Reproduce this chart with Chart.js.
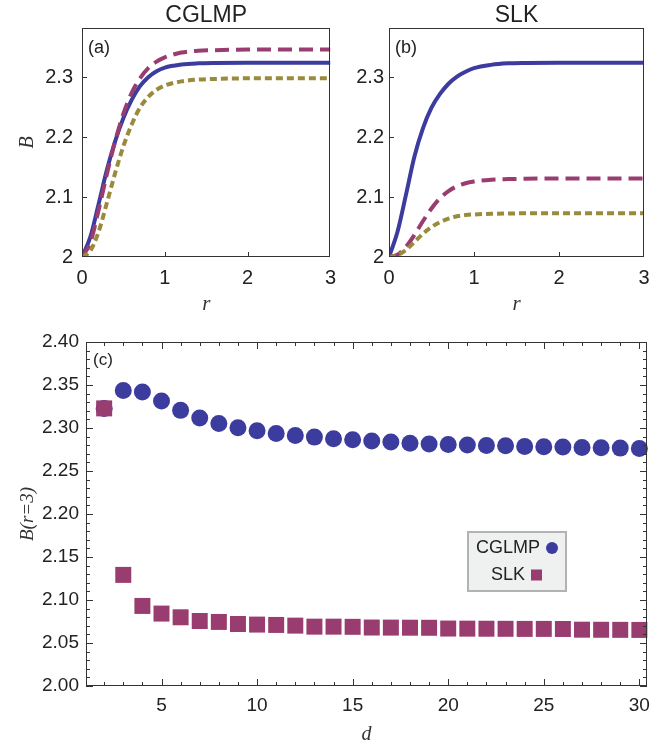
<!DOCTYPE html>
<html>
<head>
<meta charset="utf-8">
<script src="https://cdn.jsdelivr.net/npm/chart.js@4"></script>
<style>
  html, body { margin: 0; padding: 0; background: #fff; }
  #wrap { position: relative; width: 672px; height: 751px; }
  canvas { position: absolute; }
</style>
</head>
<body>
<div id="wrap">
  <canvas id="cglmp" width="345" height="320" style="left:0;top:0"></canvas>
  <canvas id="slk" width="327" height="320" style="left:345px;top:0"></canvas>
  <canvas id="dims" width="672" height="431" style="left:0;top:320px"></canvas>
</div>
<script>
// panels (a) and (b): B against r, three curves each
const rValues = [0, 0.1, 0.2, 0.3, 0.4, 0.5, 0.6, 0.7, 0.8, 0.9, 1.0, 1.2, 1.4, 1.6, 2.0, 2.5, 3.0];
const cglmpSolid  = [2.000, 2.033, 2.088, 2.145, 2.193, 2.232, 2.262, 2.285, 2.300, 2.310, 2.316, 2.321, 2.323, 2.3237, 2.324, 2.324, 2.324];
const cglmpDashed = [2.000, 2.024, 2.078, 2.138, 2.193, 2.239, 2.274, 2.298, 2.315, 2.326, 2.333, 2.341, 2.344, 2.345, 2.346, 2.346, 2.346];
const cglmpDotted = [2.000, 2.010, 2.042, 2.090, 2.140, 2.185, 2.221, 2.249, 2.267, 2.279, 2.286, 2.293, 2.296, 2.297, 2.298, 2.298, 2.298];
const slkSolid    = [2.000, 2.042, 2.104, 2.168, 2.215, 2.249, 2.272, 2.289, 2.301, 2.309, 2.315, 2.3205, 2.323, 2.3237, 2.324, 2.324, 2.324];
const slkDashed   = [2.000, 2.004, 2.017, 2.037, 2.060, 2.081, 2.098, 2.110, 2.118, 2.123, 2.126, 2.129, 2.130, 2.1305, 2.131, 2.131, 2.131];
const slkDotted   = [2.000, 2.003, 2.012, 2.025, 2.039, 2.050, 2.058, 2.064, 2.068, 2.070, 2.071, 2.072, 2.0725, 2.073, 2.073, 2.073, 2.073];
const rTicks = [0, 1, 2, 3];
const bTicks = [2, 2.1, 2.2, 2.3];
const bTickLabels = ['2', '2.1', '2.2', '2.3'];

// panel (c): B(r=3) against d
const dValues = [2, 3, 4, 5, 6, 7, 8, 9, 10, 11, 12, 13, 14, 15, 16, 17, 18, 19, 20, 21, 22, 23, 24, 25, 26, 27, 28, 29, 30];
const cglmpAtR3 = [2.3228, 2.3437, 2.3418, 2.3313, 2.3205, 2.3115, 2.3053, 2.3003, 2.2968, 2.2937, 2.2914, 2.2894, 2.2875, 2.2863, 2.2848,
                   2.2836, 2.2824, 2.2813, 2.2809, 2.2801, 2.2797, 2.2793, 2.2786, 2.2782, 2.2778, 2.2774, 2.2770, 2.2766, 2.2762];
const slkAtR3   = [2.3228, 2.1292, 2.0931, 2.0842, 2.0799, 2.0756, 2.0745, 2.0721, 2.0714, 2.0710, 2.0702, 2.0690, 2.0690, 2.0688, 2.0680,
                   2.0679, 2.0678, 2.0677, 2.0668, 2.0667, 2.0666, 2.0665, 2.0664, 2.0664, 2.0663, 2.0655, 2.0654, 2.0653, 2.0652];
const dTicks = [5, 10, 15, 20, 25, 30];
const cTicks = [2.00, 2.05, 2.10, 2.15, 2.20, 2.25, 2.30, 2.35, 2.40];

const BLUE = '#3c3c9e', PLUM = '#993c70', GOLD = '#9a8a3c';
const SANS = "'Liberation Sans', Arial, sans-serif";
const SERIF = "'Liberation Serif', 'Times New Roman', serif";

// frame with inward ticks, panel tag, panel title, optional legend
function framePlugin(cfg) {
  return {
    id: 'frame',
    afterDatasetsDraw(chart) {
      const { ctx, chartArea: a, scales: { x, y } } = chart;
      ctx.save();
      ctx.strokeStyle = '#333';
      ctx.lineWidth = 1;
      ctx.beginPath();
      const xt = (v, len) => {
        const px = Math.round(x.getPixelForValue(v)) + 0.5;
        ctx.moveTo(px, a.bottom); ctx.lineTo(px, a.bottom - len);
        if (cfg.mirror) { ctx.moveTo(px, a.top); ctx.lineTo(px, a.top + len); }
      };
      const yt = (v, len) => {
        const py = Math.round(y.getPixelForValue(v)) + 0.5;
        ctx.moveTo(a.left, py); ctx.lineTo(a.left + len, py);
        if (cfg.mirror) { ctx.moveTo(a.right, py); ctx.lineTo(a.right - len, py); }
      };
      cfg.xMajor.forEach(v => xt(v, cfg.major));
      cfg.yMajor.forEach(v => yt(v, cfg.major));
      if (cfg.xStep) {
        for (let v = Math.ceil(x.min); v <= x.max; v += cfg.xStep) if (!cfg.xMajor.includes(v)) xt(v, cfg.minor);
      }
      if (cfg.yStep) {
        for (let k = 1; k < 40; k++) { if (k % 5) yt(2 + k * cfg.yStep, cfg.minor); }
      }
      ctx.stroke();
      ctx.strokeRect(Math.round(a.left) + 0.5, Math.round(a.top) + 0.5, Math.round(a.width) - 1, Math.round(a.height) - 1);

      ctx.fillStyle = '#222';
      ctx.font = cfg.tagFont;
      ctx.textAlign = 'left';
      ctx.textBaseline = 'middle';
      ctx.fillText(cfg.tag, a.left + cfg.tagX, a.top + cfg.tagY);
      if (cfg.title) {
        ctx.font = '23px ' + SANS;
        ctx.textAlign = 'center';
        ctx.fillText(cfg.title, (a.left + a.right) / 2, 16);
      }
      if (cfg.legend) {
        const L = cfg.legend;
        const bx = a.left + L.x, by = a.top + L.y;
        ctx.fillStyle = '#eff1f1';
        ctx.fillRect(bx, by, L.w, L.h);
        ctx.strokeStyle = '#b2b2b2';
        ctx.lineWidth = 2;
        ctx.strokeRect(bx, by, L.w, L.h);
        ctx.font = '18px ' + SANS;
        ctx.textAlign = 'left';
        chart.data.datasets.slice().sort((p, q) => q.order - p.order).forEach((ds, i) => {
          const tw = ctx.measureText(ds.label).width;
          const gw = tw + 6 + 12;
          const sx = bx + L.w / 2 - gw / 2;
          const cy = by + 16 + i * 27;
          ctx.fillStyle = '#222';
          ctx.fillText(ds.label, sx, cy);
          ctx.fillStyle = ds.backgroundColor;
          if (ds.pointStyle === 'circle') {
            ctx.beginPath(); ctx.arc(sx + tw + 12, cy, 6, 0, Math.PI * 2); ctx.fill();
          } else {
            ctx.fillRect(sx + tw + 6, cy - 5.5, 11, 11);
          }
        });
      }
      ctx.restore();
    }
  };
}

function curveSet(solid, dashed, dotted) {
  const pts = arr => rValues.map((r, i) => ({ x: r, y: arr[i] }));
  const base = { pointRadius: 0, borderWidth: 4, cubicInterpolationMode: 'monotone', fill: false };
  return [
    Object.assign({ label: 'dotted', data: pts(dotted), borderColor: GOLD, borderDash: [7, 4] }, base),
    Object.assign({ label: 'dashed', data: pts(dashed), borderColor: PLUM, borderDash: [14, 7] }, base),
    Object.assign({ label: 'solid', data: pts(solid), borderColor: BLUE }, base)
  ];
}

function curveChart(id, title, tag, solid, dashed, dotted, yWidth, padRight, labelPad, showYTitle) {
  return new Chart(document.getElementById(id), {
    type: 'line',
    data: { datasets: curveSet(solid, dashed, dotted) },
    options: {
      responsive: false,
      animation: false,
      events: [],
      layout: { padding: { left: 0, right: padRight, top: 28, bottom: 0 } },
      plugins: { legend: { display: false }, tooltip: { enabled: false } },
      scales: {
        x: {
          type: 'linear', min: 0, max: 3,
          grid: { display: false, drawTicks: false },
          border: { display: false },
          afterBuildTicks: s => { s.ticks = rTicks.map(v => ({ value: v })); },
          afterFit: s => { s.height = 63; },
          ticks: { padding: 9, color: '#222', font: { family: SANS, size: 20 }, callback: v => String(v), maxRotation: 0 },
          title: { display: true, text: 'r', color: '#333', font: { family: SERIF, size: 21, style: 'italic' }, padding: { top: 0, bottom: 3 } }
        },
        y: {
          type: 'linear', min: 2, max: 2.382,
          grid: { display: false, drawTicks: false },
          border: { display: false },
          afterBuildTicks: s => { s.ticks = bTicks.map(v => ({ value: v })); },
          afterFit: s => { s.width = yWidth; },
          ticks: { padding: labelPad, color: '#222', font: { family: SANS, size: 20 }, callback: (v, i) => bTickLabels[i] },
          title: { display: showYTitle, text: 'B', color: '#333', font: { family: SERIF, size: 20, style: 'italic' }, padding: { top: 16, bottom: 0 } }
        }
      }
    },
    plugins: [framePlugin({ xMajor: [1, 2], yMajor: [2.1, 2.2, 2.3], major: 5, minor: 0, mirror: false,
                            tag: tag, tagX: 6, tagY: 20, tagFont: '18px ' + SANS, title: title })]
  });
}

curveChart('cglmp', 'CGLMP', '(a)', cglmpSolid, cglmpDashed, cglmpDotted, 82, 8, 9, true);
curveChart('slk', 'SLK', '(b)', slkSolid, slkDashed, slkDotted, 44, 28, 5, false);

new Chart(document.getElementById('dims'), {
  type: 'scatter',
  data: {
    datasets: [
      { label: 'SLK', order: 0, data: dValues.map((d, i) => ({ x: d, y: slkAtR3[i] })),
        pointStyle: 'rect', pointRadius: 11.3, backgroundColor: PLUM, borderWidth: 0, clip: false },
      { label: 'CGLMP', order: 1, data: dValues.map((d, i) => ({ x: d, y: cglmpAtR3[i] })),
        pointStyle: 'circle', pointRadius: 8.5, backgroundColor: BLUE, borderWidth: 0, clip: false }
    ]
  },
  options: {
    responsive: false,
    animation: false,
    events: [],
    layout: { padding: { left: 0, right: 25, top: 22, bottom: 0 } },
    plugins: { legend: { display: false }, tooltip: { enabled: false } },
    scales: {
      x: {
        type: 'linear', min: 1.05, max: 30.4,
        grid: { display: false, drawTicks: false },
        border: { display: false },
        afterBuildTicks: s => { s.ticks = dTicks.map(v => ({ value: v })); },
        afterFit: s => { s.height = 65; },
        ticks: { padding: 8, color: '#222', font: { family: SANS, size: 19 }, callback: v => String(v), maxRotation: 0 },
        title: { display: true, text: 'd', color: '#333', font: { family: SERIF, size: 20, style: 'italic' }, padding: { top: 0, bottom: 4 } }
      },
      y: {
        type: 'linear', min: 2.0, max: 2.4,
        grid: { display: false, drawTicks: false },
        border: { display: false },
        afterBuildTicks: s => { s.ticks = cTicks.map(v => ({ value: v })); },
        afterFit: s => { s.width = 86; },
        ticks: { padding: 7, color: '#222', font: { family: SANS, size: 19 }, callback: v => v.toFixed(2) },
        title: { display: true, text: 'B(r=3)', color: '#333', font: { family: SERIF, size: 19, style: 'italic' }, padding: { top: 17, bottom: 0 } }
      }
    }
  },
  plugins: [framePlugin({ xMajor: dTicks, yMajor: cTicks, major: 7, minor: 4, mirror: true, xStep: 1, yStep: 0.01,
                          tag: '(c)', tagX: 7, tagY: 18, tagFont: '17px ' + SANS,
                          legend: { x: 382, y: 190, w: 98, h: 59 } })]
});
</script>
</body>
</html>
